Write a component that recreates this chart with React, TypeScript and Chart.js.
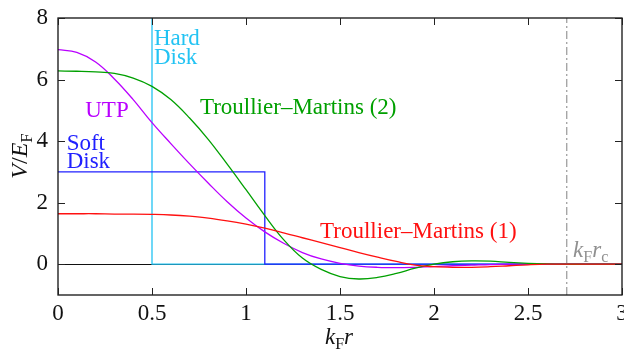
import React, { useEffect, useRef } from 'react';
import { Chart, registerables } from 'chart.js';

Chart.register(...registerables);

// ---- data ----
const xTickValues = [0, 0.5, 1, 1.5, 2, 2.5, 3];
const yTickValues = [0, 2, 4, 6, 8];

const kGrid = [
  0, 0.1, 0.2, 0.3, 0.4, 0.5, 0.6, 0.7, 0.8, 0.9,
  1.0, 1.1, 1.2, 1.3, 1.4, 1.5, 1.6, 1.7, 1.8, 1.9,
  2.0, 2.1, 2.2, 2.3, 2.4, 2.5, 2.6, 2.7, 2.8, 2.9, 3.0,
];

const utpValues = [
  6.97, 6.88, 6.57, 6.02, 5.35, 4.6, 3.92, 3.26, 2.63, 2.03,
  1.5, 1.05, 0.68, 0.38, 0.17, 0.03, -0.06, -0.1, -0.11, -0.1,
  -0.08, -0.05, -0.03, -0.01, 0, 0, 0, 0, 0, 0, 0,
];

const tm2Values = [
  6.28, 6.27, 6.25, 6.2, 6.05, 5.78, 5.35, 4.75, 4.05, 3.25,
  2.42, 1.58, 0.8, 0.2, -0.17, -0.4, -0.48, -0.43, -0.3, -0.13,
  0.0, 0.08, 0.11, 0.1, 0.06, 0.03, 0.01, 0, 0, 0, 0,
];

const tm1Values = [
  1.64, 1.64, 1.64, 1.63, 1.63, 1.62, 1.6, 1.56, 1.5, 1.41,
  1.3, 1.17, 1.02, 0.86, 0.7, 0.54, 0.38, 0.23, 0.09, -0.03,
  -0.08, -0.1, -0.1, -0.08, -0.05, -0.02, 0, 0, 0, 0, 0,
];

const hardDiskX = [0.5, 0.5, 3];
const hardDiskY = [9, 0, 0];
const softDiskX = [0, 1.1, 1.1, 3];
const softDiskY = [3, 3, 0, 0];
const kFrc = 2.706;
const cutoffY = [-1, 8];

// ---- styles ----
const FONT = '"Liberation Serif", "Times New Roman", serif';
const FS = 23;
const C_CYAN = '#22c3f3';
const C_BLUE = '#2020ff';
const C_PURPLE = '#b900ff';
const C_GREEN = '#00a000';
const C_RED = '#ff1010';
const C_GRAY = '#a0a0a0';

type Part = { t: string; it?: boolean; sub?: boolean };

function partsWidth(ctx: CanvasRenderingContext2D, parts: Part[], size: number) {
  let w = 0;
  for (const p of parts) {
    const fs = p.sub ? size * 0.7 : size;
    ctx.font = `${p.it ? 'italic ' : ''}${fs}px ${FONT}`;
    w += ctx.measureText(p.t).width;
  }
  return w;
}

function drawParts(ctx: CanvasRenderingContext2D, parts: Part[], x: number, y: number, size: number) {
  let cx = x;
  ctx.textAlign = 'left';
  ctx.textBaseline = 'alphabetic';
  for (const p of parts) {
    const fs = p.sub ? size * 0.7 : size;
    ctx.font = `${p.it ? 'italic ' : ''}${fs}px ${FONT}`;
    ctx.fillText(p.t, cx, y + (p.sub ? size * 0.2 : 0));
    cx += ctx.measureText(p.t).width;
  }
}

// labels anchored in data coordinates (left, baseline)
const textLabels: { lines: string[]; x: number; y: number; color: string; dy: number }[] = [
  { lines: ['Hard', 'Disk'], x: 0.51, y: 7.12, color: C_CYAN, dy: 19 },
  { lines: ['UTP'], x: 0.145, y: 4.78, color: C_PURPLE, dy: 0 },
  { lines: ['Soft', 'Disk'], x: 0.046, y: 3.71, color: C_BLUE, dy: 18 },
  { lines: ['Troullier–Martins (2)'], x: 0.755, y: 4.88, color: C_GREEN, dy: 0 },
  { lines: ['Troullier–Martins (1)'], x: 1.394, y: 0.85, color: C_RED, dy: 0 },
];

const decorPlugin = {
  id: 'decor',
  afterDatasetsDraw(chart: any) {
    const ctx: CanvasRenderingContext2D = chart.ctx;
    const xs = chart.scales.x;
    const ys = chart.scales.y;
    const { left, right, top, bottom } = chart.chartArea;
    ctx.save();
    for (const l of textLabels) {
      ctx.fillStyle = l.color;
      ctx.font = `${FS}px ${FONT}`;
      ctx.textAlign = 'left';
      ctx.textBaseline = 'alphabetic';
      const px = xs.getPixelForValue(l.x);
      const py = ys.getPixelForValue(l.y);
      l.lines.forEach((s, i) => ctx.fillText(s, px, py + i * l.dy));
    }
    ctx.fillStyle = '#909090';
    drawParts(
      ctx,
      [{ t: 'k', it: true }, { t: 'F', sub: true }, { t: 'r', it: true }, { t: 'c', sub: true }],
      xs.getPixelForValue(2.74),
      ys.getPixelForValue(0.23),
      FS
    );
    ctx.strokeStyle = '#111';
    ctx.lineWidth = 1.3;
    ctx.strokeRect(left, top, right - left, bottom - top);
    ctx.lineWidth = 1;
    ctx.strokeStyle = '#222';
    const TL = 7;
    ctx.beginPath();
    for (const v of xTickValues) {
      const p = Math.round(xs.getPixelForValue(v)) + 0.5;
      ctx.moveTo(p, bottom);
      ctx.lineTo(p, bottom - TL);
      ctx.moveTo(p, top);
      ctx.lineTo(p, top + TL);
    }
    for (const v of yTickValues) {
      const p = Math.round(ys.getPixelForValue(v)) + 0.5;
      ctx.moveTo(left, p);
      ctx.lineTo(left + TL, p);
      ctx.moveTo(right, p);
      ctx.lineTo(right - TL, p);
    }
    ctx.stroke();
    ctx.restore();
  },
  afterDraw(chart: any) {
    const ctx: CanvasRenderingContext2D = chart.ctx;
    ctx.save();
    ctx.fillStyle = '#111';
    const xParts: Part[] = [{ t: 'k', it: true }, { t: 'F', sub: true }, { t: 'r', it: true }];
    const xw = partsWidth(ctx, xParts, FS);
    drawParts(ctx, xParts, 339 - xw / 2, 344, FS);
    const yParts: Part[] = [{ t: 'V', it: true }, { t: '/', it: false }, { t: 'E', it: true }, { t: 'F', sub: true }];
    const yw = partsWidth(ctx, yParts, 24);
    ctx.translate(27, 156);
    ctx.rotate(-Math.PI / 2);
    drawParts(ctx, yParts, -yw / 2, 0, 24);
    ctx.restore();
  },
};

function pts(xs: number[], ys: number[]) {
  return xs.map((x, i) => ({ x, y: ys[i] }));
}

export default function App() {
  const ref = useRef<HTMLCanvasElement | null>(null);
  useEffect(() => {
    if (!ref.current) return;
    const curve = (label: string, ys: number[], color: string) => ({
      label,
      data: pts(kGrid, ys),
      borderColor: color,
      borderWidth: 1.3,
      pointRadius: 0,
      tension: 0.4,
      fill: false,
    });
    const chart = new Chart(ref.current, {
      type: 'line',
      data: {
        datasets: [
          curve('Troullier–Martins (1)', tm1Values, C_RED),
          curve('Troullier–Martins (2)', tm2Values, C_GREEN),
          curve('UTP', utpValues, C_PURPLE),
          {
            label: 'Soft Disk',
            data: pts(softDiskX, softDiskY),
            borderColor: C_BLUE,
            borderWidth: 1.3,
            pointRadius: 0,
            tension: 0,
            fill: false,
          },
          {
            label: 'Hard Disk',
            data: pts(hardDiskX, hardDiskY),
            borderColor: C_CYAN,
            borderWidth: 1.3,
            pointRadius: 0,
            tension: 0,
            fill: false,
          },
          {
            label: 'kF rc',
            data: pts([kFrc, kFrc], cutoffY),
            borderColor: C_GRAY,
            borderWidth: 1.3,
            borderDash: [8, 3, 2, 3],
            pointRadius: 0,
            tension: 0,
            fill: false,
          },
        ],
      },
      options: {
        animation: false,
        responsive: false,
        layout: { padding: { top: 18, right: 2, left: 0, bottom: 0 } },
        plugins: {
          legend: { display: false },
          tooltip: { enabled: false },
        },
        scales: {
          x: {
            type: 'linear',
            min: 0,
            max: 3,
            afterBuildTicks: (s: any) => {
              s.ticks = xTickValues.map((v) => ({ value: v }));
            },
            afterFit: (s: any) => {
              s.height = 54;
              s.paddingLeft = 0;
              s.paddingRight = 0;
            },
            grid: { display: false, drawTicks: false },
            border: { display: false },
            ticks: {
              padding: 5,
              color: '#111',
              font: { family: FONT, size: FS },
              maxRotation: 0,
              callback: (v: any) => String(v),
            },
          },
          y: {
            type: 'linear',
            min: -1,
            max: 8,
            afterBuildTicks: (s: any) => {
              s.ticks = yTickValues.map((v) => ({ value: v }));
            },
            afterFit: (s: any) => {
              s.width = 58;
              s.paddingTop = 0;
              s.paddingBottom = 0;
            },
            grid: {
              drawTicks: false,
              color: (c: any) => (c.tick && c.tick.value === 0 ? '#111' : 'rgba(0,0,0,0)'),
              lineWidth: 1,
            },
            border: { display: false },
            ticks: {
              padding: 10,
              color: '#111',
              font: { family: FONT, size: FS },
              callback: (v: any) => String(v),
            },
          },
        },
      },
      plugins: [decorPlugin],
    } as any);
    return () => chart.destroy();
  }, []);
  return (
    <div style={{ position: 'absolute', left: 0, top: 0, width: 624, height: 349, background: '#fff' }}>
      <canvas ref={ref} width={624} height={349} style={{ display: 'block' }} />
    </div>
  );
}
